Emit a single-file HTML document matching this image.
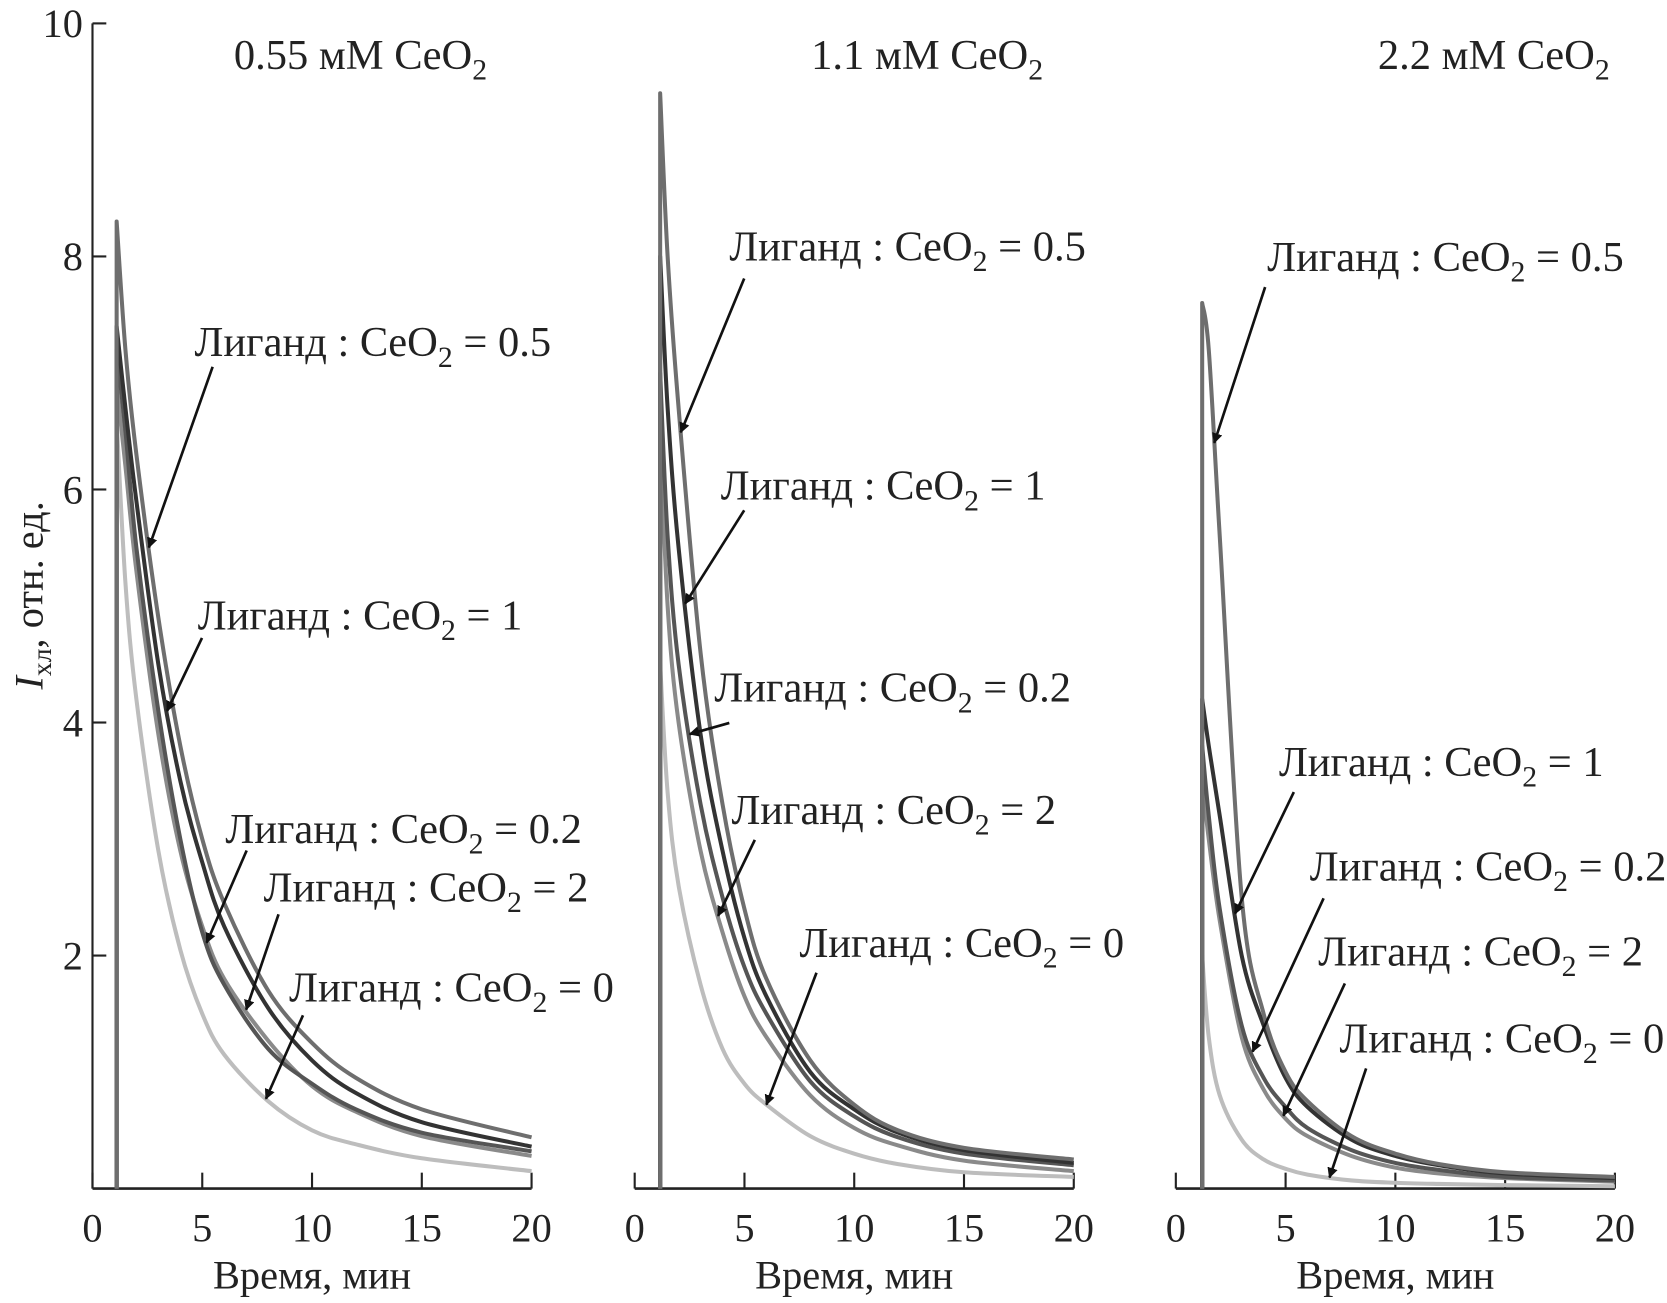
<!DOCTYPE html>
<html><head><meta charset="utf-8"><style>
html,body{margin:0;padding:0;background:#fff;}
svg{display:block;font-family:"Liberation Serif","DejaVu Serif",serif;}
</style></head><body>
<svg id="chart" width="1667" height="1303" viewBox="0 0 1568 1225.6" xmlns="http://www.w3.org/2000/svg">
<defs><marker id="ah" markerWidth="10" markerHeight="10" refX="9" refY="5" orient="auto" markerUnits="userSpaceOnUse"><path d="M0,0 L10,5 L0,10 L0,0" fill="#111" transform="scale(1.8) translate(-4.5,-2.2)"/></marker></defs>
</svg>
<script>
const times = [1.1,1.5,2,3,4,5,6,8,10,12,15,20];
const ratioNames = ["0.5","1","0.2","2","0"];
const colors = ["#6e6e6e","#333333","#555555","#8a8a8a","#bdbdbd"];
const panelTitles = ["0.55","1.1","2.2"];
const xTicks = [0,5,10,15,20];
const yTicks = [2,4,6,8,10];
const startT = [1.1,1.16,1.2];
const p1_r05 = [8.3,7.2,6.3,4.9,3.8,3.0,2.45,1.7,1.25,0.95,0.68,0.44];
const p1_r1  = [7.4,6.7,5.9,4.5,3.5,2.8,2.25,1.55,1.1,0.82,0.57,0.36];
const p1_r02 = [7.2,6.5,5.5,4.1,3.0,2.2,1.75,1.2,0.9,0.68,0.48,0.32];
const p1_r2  = [6.9,6.2,5.3,3.9,2.9,2.25,1.8,1.27,0.88,0.66,0.45,0.28];
const p1_r0  = [6.6,5.2,4.2,2.9,2.05,1.5,1.15,0.75,0.5,0.38,0.26,0.15];
const p2_r05 = [9.4,8.0,6.7,4.6,3.3,2.4,1.8,1.1,0.72,0.5,0.35,0.25];
const p2_r1  = [8.0,6.7,5.5,3.9,2.9,2.15,1.65,1.0,0.68,0.48,0.33,0.22];
const p2_r02 = [7.0,5.6,4.5,3.3,2.5,1.9,1.5,0.92,0.62,0.44,0.3,0.2];
const p2_r2  = [6.5,5.0,4.0,2.9,2.2,1.65,1.3,0.8,0.52,0.37,0.24,0.15];
const p2_r0  = [4.5,3.4,2.6,1.75,1.2,0.9,0.72,0.45,0.3,0.21,0.14,0.1];
const p3_r05 = [7.6,7.2,5.6,2.5,1.5,1.0,0.75,0.45,0.3,0.21,0.14,0.1];
const p3_r1  = [4.2,3.8,3.2,2.0,1.4,0.95,0.7,0.42,0.28,0.2,0.13,0.09];
const p3_r02 = [3.8,3.2,2.4,1.4,0.95,0.7,0.52,0.33,0.22,0.16,0.1,0.07];
const p3_r2  = [3.5,3.0,2.3,1.3,0.85,0.6,0.45,0.28,0.18,0.13,0.09,0.06];
const p3_r0  = [2.0,1.3,0.8,0.42,0.25,0.17,0.12,0.07,0.05,0.04,0.03,0.02];
const series = [[p1_r05,p1_r1,p1_r02,p1_r2,p1_r0],[p2_r05,p2_r1,p2_r02,p2_r2,p2_r0],[p3_r05,p3_r1,p3_r02,p3_r2,p3_r0]];
// annotation: [labelX, labelBaseline, arrowStartX, arrowStartY, targetT, seriesIndex]
const annotations = [
 [[183,335,200,345,2.57,0],[186,592,190,600,3.4,1],[212,793,232,800,5.2,2],[248,848,262,860,7.0,3],[272,942,285,955,7.9,4]],
 [[686,245,700,262,2.1,0],[678,470,700,480,2.3,1],[672,660,686,680,2.5,2],[688,775,710,790,3.8,3],[752,900,768,915,6.0,4]],
 [[1192,255,1190,270,1.75,0],[1203,730,1217,745,2.7,1],[1232,828,1245,845,3.5,2],[1240,908,1265,925,4.9,3],[1260,990,1285,1005,7.0,4]]
];
const panelX0 = [87,597,1106];
const titleX = [220,763,1296];
const pxPerMin = 20.65;
const Y0 = 1118, pxPerUnit = 109.6;
const svg = document.getElementById('chart');
const NS = 'http://www.w3.org/2000/svg';
function mk(tag, attrs, parent){const e=document.createElementNS(NS,tag);for(const k in attrs)e.setAttribute(k,attrs[k]);(parent||svg).appendChild(e);return e;}
function yS(v){return Y0 - v*pxPerUnit;}
function interp(arr,t){for(let i=0;i<times.length-1;i++){if(t>=times[i]&&t<=times[i+1]){const f=(t-times[i])/(times[i+1]-times[i]);return arr[i]+(arr[i+1]-arr[i])*f;}}return arr[arr.length-1];}
function smoothPath(pts){let d='M'+pts[0][0]+','+pts[0][1];for(let i=0;i<pts.length-1;i++){const p0=pts[Math.max(i-1,0)],p1=pts[i],p2=pts[i+1],p3=pts[Math.min(i+2,pts.length-1)];const c1=[p1[0]+(p2[0]-p0[0])/6,p1[1]+(p2[1]-p0[1])/6];const c2=[p2[0]-(p3[0]-p1[0])/6,p2[1]-(p3[1]-p1[1])/6];d+=' C'+c1[0]+','+c1[1]+' '+c2[0]+','+c2[1]+' '+p2[0]+','+p2[1];}return d;}

const yAxis = mk('line',{x1:87,y1:22,x2:87,y2:Y0,stroke:'#222','stroke-width':2});


yTicks.forEach(v=>{
 const tk = mk('line',{x1:87,y1:yS(v),x2:100,y2:yS(v),stroke:'#222','stroke-width':2});
 
 
 const tl = mk('text',{x:78,y:yS(v)+13,'text-anchor':'end','font-size':38,fill:'#222'});
 tl.textContent = v;
 
 
});
const yt = mk('text',{transform:'translate(40,560) rotate(-90)','text-anchor':'middle','font-size':38,fill:'#222'});
yt.innerHTML = '<tspan font-style="italic">I</tspan><tspan font-size="26" dy="8">хл</tspan><tspan dy="-8">, отн. ед.</tspan>';



panelX0.forEach((x0,p)=>{
 const xS = t => x0 + t*pxPerMin;
 const g = mk('g',{});
 
 
 const ax = mk('line',{x1:x0,y1:Y0,x2:xS(20),y2:Y0,stroke:'#222','stroke-width':2.5},g);
 
 
 xTicks.forEach(v=>{
  const tk = mk('line',{x1:xS(v),y1:Y0,x2:xS(v),y2:Y0-15,stroke:'#222','stroke-width':2},g);
  
  
  const tl = mk('text',{x:xS(v),y:1168,'text-anchor':'middle','font-size':38,fill:'#222'},g);
  tl.textContent = v;
  
  
 });
 const xt = mk('text',{x:xS(10),y:1212,'text-anchor':'middle','font-size':38,fill:'#222'},g);
 xt.textContent = 'Время, мин';
 
 
 const tt = mk('text',{x:titleX[p],y:65,'font-size':40,fill:'#222'},g);
 tt.innerHTML = panelTitles[p]+' мМ CeO<tspan font-size="28" dy="10">2</tspan>';
 
 
 for(let s=4;s>=0;s--){
  const arr = series[p][s];
  const ts = times.slice(); ts[0]=startT[p];
  const pts = ts.map((t,i)=>[xS(t),yS(arr[i])]);
  const path = mk('path',{d:'M'+xS(startT[p])+','+Y0+' L'+smoothPath(pts).slice(1),fill:'none',stroke:colors[s],'stroke-width':3.8,'stroke-linejoin':'round'},g);
  
  
 }
 annotations[p].forEach(a=>{
  const lbl = mk('text',{x:a[0],y:a[1],'font-size':40,fill:'#222'},g);
  lbl.innerHTML = 'Лиганд : CeO<tspan font-size="28" dy="10">2</tspan><tspan dy="-10"> = '+ratioNames[a[5]]+'</tspan>';
  
  
  const tx = xS(a[4]), ty = yS(interp(series[p][a[5]],a[4]));
  const ar = mk('line',{x1:a[2],y1:a[3],x2:tx,y2:ty,stroke:'#111','stroke-width':2.5,'marker-end':'url(#ah)'},g);
  
  
 });
});
</script>
</body></html>
